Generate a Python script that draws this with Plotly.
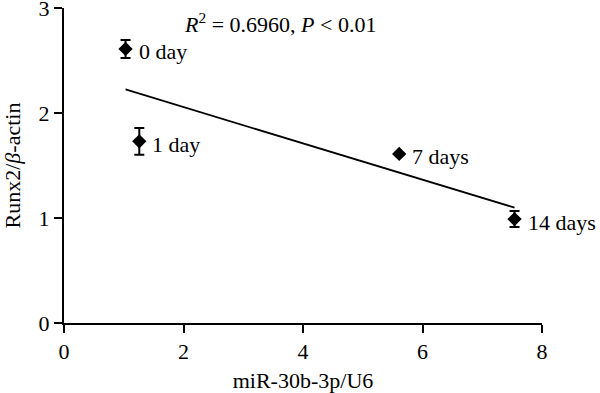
import numpy as np
import plotly.graph_objects as go

# Data
labels = ["0 day", "1 day", "7 days", "14 days"]
mir_x = [1.03, 1.26, 5.61, 7.54]
runx2_y = [2.61, 1.73, 1.61, 0.99]
runx2_err = [0.086, 0.127, 0.0, 0.076]
x_ticks = [0, 2, 4, 6, 8]
y_ticks = [0, 1, 2, 3]

FONT = "Liberation Serif"

# Linear regression line through the points
slope, intercept = np.polyfit(mir_x, runx2_y, 1)
fit_x = [min(mir_x), max(mir_x)]
fit_y = [slope * v + intercept for v in fit_x]

fig = go.Figure()
fig.add_trace(go.Scatter(
    x=fit_x, y=fit_y, mode="lines",
    line=dict(color="black", width=1.8), showlegend=False, hoverinfo="skip"))
fig.add_trace(go.Scatter(
    x=mir_x, y=runx2_y, mode="markers",
    marker=dict(symbol="diamond", size=11, color="black"),
    error_y=dict(type="data", array=runx2_err, visible=True,
                 color="black", thickness=2, width=5),
    showlegend=False))

for lx, ly, lt in zip(mir_x, runx2_y, labels):
    fig.add_annotation(x=lx, y=ly, text=lt, showarrow=False,
                       xanchor="left", yanchor="middle", xshift=11, yshift=-3,
                       font=dict(family=FONT, size=22, color="black"))

fig.add_annotation(
    x=3.61, y=2.86, xref="x", yref="y",
    text="<i>R</i><sup>2</sup> = 0.6960, <i>P</i> &lt; 0.01",
    showarrow=False, xanchor="center", yanchor="middle",
    font=dict(family=FONT, size=22, color="black"))

axis_common = dict(
    showline=True, linecolor="black", linewidth=2,
    ticks="outside", ticklen=8, tickwidth=2, tickcolor="black",
    showgrid=False, zeroline=False, automargin=False,
    ticklabeloverflow="allow",
    tickfont=dict(family=FONT, size=22, color="black"),
)

fig.update_xaxes(range=[0, 8], tickvals=x_ticks,
                 title=dict(text="miR-30b-3p/U6", font=dict(family=FONT, size=22, color="black")),
                 **axis_common)
fig.update_yaxes(range=[0, 3], tickvals=y_ticks,
                 title=dict(text="Runx2/<i>β</i>-actin", font=dict(family=FONT, size=22, color="black")),
                 **axis_common)

fig.update_layout(
    width=600, height=393,
    margin=dict(l=64, r=58, t=8, b=70),
    plot_bgcolor="white", paper_bgcolor="white",
)

# Remove the default page body margin so the figure fills the window
fig.write_html("out.html", config={"displayModeBar": False},
               post_script="document.body.style.margin='0';")
